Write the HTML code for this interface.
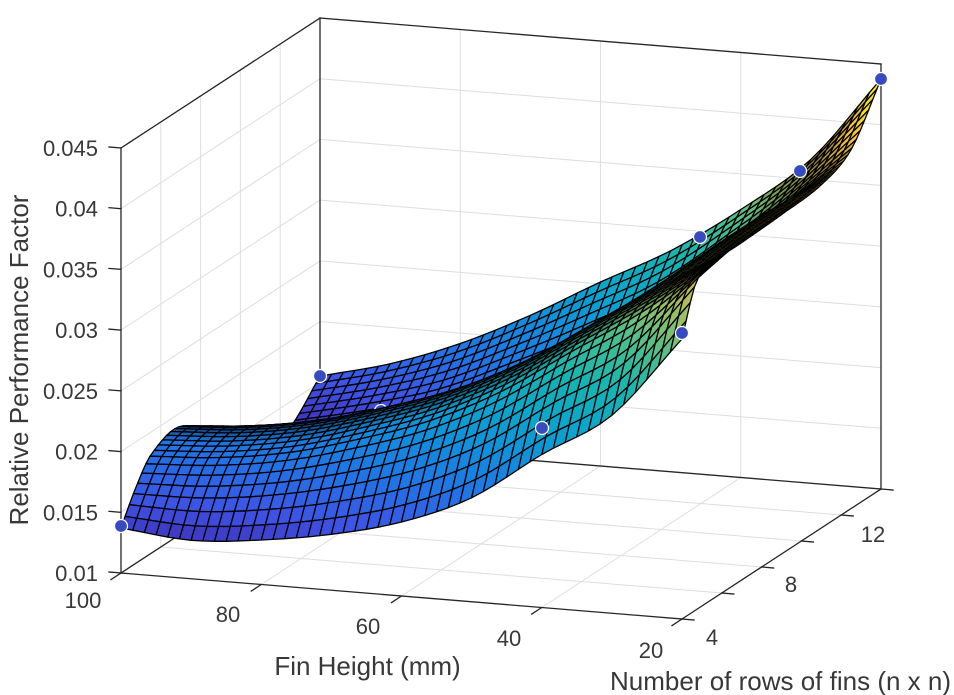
<!DOCTYPE html>
<html><head><meta charset="utf-8">
<style>
html,body{margin:0;padding:0;background:#fff;}
svg{display:block;}
text{font-family:"Liberation Sans",Arial,sans-serif;fill:#383838;}
</style></head>
<body>
<svg id="s" width="954" height="695" viewBox="0 0 954 695" xmlns="http://www.w3.org/2000/svg">
<rect x="0" y="0" width="954" height="695" fill="#fff"/>
<g stroke="#dedede" stroke-width="1" fill="none">
<line x1="121" y1="512.3" x2="320" y2="382.3"/>
<line x1="121" y1="451.6" x2="320" y2="321.6"/>
<line x1="121" y1="390.9" x2="320" y2="260.9"/>
<line x1="121" y1="330.1" x2="320" y2="200.1"/>
<line x1="121" y1="269.4" x2="320" y2="139.4"/>
<line x1="121" y1="208.7" x2="320" y2="78.7"/>
<line x1="160.8" y1="547" x2="160.8" y2="122"/>
<line x1="200.6" y1="521" x2="200.6" y2="96"/>
<line x1="240.4" y1="495" x2="240.4" y2="70"/>
<line x1="280.2" y1="469" x2="280.2" y2="44"/>
<line x1="320" y1="382.3" x2="881" y2="428.3"/>
<line x1="320" y1="321.6" x2="881" y2="367.6"/>
<line x1="320" y1="260.9" x2="881" y2="306.9"/>
<line x1="320" y1="200.1" x2="881" y2="246.1"/>
<line x1="320" y1="139.4" x2="881" y2="185.4"/>
<line x1="320" y1="78.7" x2="881" y2="124.7"/>
<line x1="460.25" y1="454.5" x2="460.25" y2="29.5"/>
<line x1="600.5" y1="466" x2="600.5" y2="41"/>
<line x1="740.75" y1="477.5" x2="740.75" y2="52.5"/>
<line x1="160.8" y1="547" x2="721.8" y2="593"/>
<line x1="200.6" y1="521" x2="761.6" y2="567"/>
<line x1="240.4" y1="495" x2="801.4" y2="541"/>
<line x1="280.2" y1="469" x2="841.2" y2="515"/>
<line x1="261.25" y1="584.5" x2="460.25" y2="454.5"/>
<line x1="401.5" y1="596" x2="600.5" y2="466"/>
<line x1="541.75" y1="607.5" x2="740.75" y2="477.5"/>
</g>
<g stroke="#262626" stroke-width="1.3" fill="none" stroke-linecap="square">
<line x1="121" y1="148" x2="121" y2="573"/>
<line x1="121" y1="148" x2="320" y2="18"/>
<line x1="320" y1="18" x2="320" y2="443"/>
<line x1="320" y1="18" x2="881" y2="64"/>
<line x1="881" y1="64" x2="881" y2="489"/>
<line x1="121" y1="573" x2="682" y2="619"/>
<line x1="682" y1="619" x2="881" y2="489"/>
<line x1="320" y1="443" x2="881" y2="489"/>
<line x1="121" y1="573" x2="320" y2="443"/>
<line x1="121" y1="148" x2="109" y2="147"/>
<line x1="121" y1="208.7" x2="109" y2="207.7"/>
<line x1="121" y1="269.4" x2="109" y2="268.4"/>
<line x1="121" y1="330.1" x2="109" y2="329.1"/>
<line x1="121" y1="390.9" x2="109" y2="389.9"/>
<line x1="121" y1="451.6" x2="109" y2="450.6"/>
<line x1="121" y1="512.3" x2="109" y2="511.3"/>
<line x1="121" y1="573" x2="109" y2="572"/>
<line x1="121" y1="573" x2="111" y2="579.6"/>
<line x1="261.25" y1="584.5" x2="251.25" y2="591.1"/>
<line x1="401.5" y1="596" x2="391.5" y2="602.6"/>
<line x1="541.75" y1="607.5" x2="531.75" y2="614.1"/>
<line x1="682" y1="619" x2="672" y2="625.6"/>
<line x1="682" y1="619" x2="694" y2="620"/>
<line x1="721.8" y1="593" x2="733.8" y2="594"/>
<line x1="761.6" y1="567" x2="773.6" y2="568"/>
<line x1="801.4" y1="541" x2="813.4" y2="542"/>
<line x1="841.2" y1="515" x2="853.2" y2="516"/>
<line x1="881" y1="489" x2="893" y2="490"/>
</g>
<g id="surf"></g>
<g font-size="22" text-anchor="end">
<text x="98" y="156">0.045</text>
<text x="98" y="216.7">0.04</text>
<text x="98" y="277.4">0.035</text>
<text x="98" y="338">0.03</text>
<text x="98" y="399">0.025</text>
<text x="98" y="459.6">0.02</text>
<text x="98" y="520.3">0.015</text>
<text x="98" y="581">0.01</text>
</g>
<g font-size="22" text-anchor="middle">
<text x="83" y="608">100</text>
<text x="228" y="622">80</text>
<text x="368" y="634">60</text>
<text x="509" y="646">40</text>
<text x="651" y="658">20</text>
<text x="712" y="645">4</text>
<text x="791" y="592">8</text>
<text x="873" y="542">12</text>
</g>
<text x="367.5" y="675" font-size="26" text-anchor="middle">Fin Height (mm)</text>
<text x="610" y="690" font-size="26">Number of rows of fins (n x n)</text>
<text transform="translate(28,360) rotate(-90)" font-size="26" text-anchor="middle">Relative Performance Factor</text>
</svg>
<script>
(function(){
const uK=[0,0.125,0.25,0.375,0.5,0.625,0.75,0.875,1];
const vK=[0,0.07,0.15,0.3,0.5,0.7,0.85,1];
const T=[
 [45,74,98.5,108,70,27,35,67],
 [38.5,76,103,113,82,38,50,85],
 [44.5,85,114,125,97,52,68,111],
 [56,100.5,133.4,145,118,80,98,145],
 [74,122,157.5,170,142,112,130,184],
 [104,154.5,192,205,178,152,170,221],
 [153,201.5,237.4,250,236,228,232,268],
 [198,246.5,282.4,295,300,300,296,324],
 [280,327,336,337,339,343,359,410]];
function herm(ts,ys,t){
  const n=ts.length;
  let i=0; while(i<n-2 && t>ts[i+1]) i++;
  const t0=ts[i],t1=ts[i+1],y0=ys[i],y1=ys[i+1],h=t1-t0;
  function m(k){
    if(k===0) return (ys[1]-ys[0])/(ts[1]-ts[0]);
    if(k===n-1) return (ys[n-1]-ys[n-2])/(ts[n-1]-ts[n-2]);
    return (ys[k+1]-ys[k-1])/(ts[k+1]-ts[k-1]);
  }
  const m0=m(i),m1=m(i+1),s=(t-t0)/h,s2=s*s,s3=s2*s;
  return (2*s3-3*s2+1)*y0+(s3-2*s2+s)*h*m0+(-2*s3+3*s2)*y1+(s3-s2)*h*m1;
}
function H(u,v){const col=T.map(function(r){return herm(vK,r,v);});return herm(uK,col,u);}
const stops=[[0,[62,38,168]],[0.1,[62,82,228]],[0.2,[34,114,230]],[0.3,[18,140,222]],[0.4,[10,165,205]],[0.5,[20,180,180]],[0.6,[70,190,145]],[0.7,[150,192,100]],[0.8,[220,185,70]],[0.88,[250,195,50]],[1,[249,251,14]]];
function col(t,m){
  t=Math.max(0,Math.min(1,t));
  for(let k=0;k<stops.length-1;k++){
    const a=stops[k],b=stops[k+1];
    if(t<=b[0]){const f=(t-a[0])/(b[0]-a[0]);
      return 'rgb('+Math.round(m*(a[1][0]+f*(b[1][0]-a[1][0])))+','+Math.round(m*(a[1][1]+f*(b[1][1]-a[1][1])))+','+Math.round(m*(a[1][2]+f*(b[1][2]-a[1][2])))+')';}
  }
  return 'rgb('+Math.round(249*m)+','+Math.round(251*m)+','+Math.round(14*m)+')';
}
function proj(u,v,h){return [121+561*u+199*v,573+46*u-130*v-h];}
const N=48;const Hs=[];let hmin=1e9,hmax=-1e9;
for(let i=0;i<=N;i++){Hs[i]=[];for(let j=0;j<=N;j++){const h=H(i/N,j/N);Hs[i][j]=h;if(h<hmin)hmin=h;if(h>hmax)hmax=h;}}
const items=[];
for(let i=0;i<N;i++){for(let j=0;j<N;j++){
  const u0=i/N,u1=(i+1)/N,v0=j/N,v1=(j+1)/N;
  const a=proj(u0,v0,Hs[i][j]),b=proj(u1,v0,Hs[i+1][j]),c=proj(u1,v1,Hs[i+1][j+1]),d=proj(u0,v1,Hs[i][j+1]);
  const q=[a,b,c,d];
  let A=0;for(let k=0;k<4;k++){const p=q[k],r=q[(k+1)%4];A+=p[0]*r[1]-r[0]*p[1];}
  A=Math.abs(A)/2;
  const kk=Math.min(1,A/60);
  const sw=(1.3*Math.max(0.45,Math.sqrt(Math.min(1,A/45)))).toFixed(2);
  const mult=0.15+0.85*kk;
  const hav=(Hs[i][j]+Hs[i+1][j]+Hs[i+1][j+1]+Hs[i][j+1])/4;
  const dep=0.3252*(u0+u1)/2-0.9169*(v0+v1)/2+0.0004*hav;
  const pts=q.map(function(p){return p[0].toFixed(1)+','+p[1].toFixed(1);}).join(' ');
  items.push({d:dep,s:'<polygon points="'+pts+'" fill="'+col((hav-hmin)/(hmax-hmin),mult)+'" stroke-width="'+sw+'"/>'});
}}
function dot(x,y,dep){items.push({d:dep,s:'<circle cx="'+x+'" cy="'+y+'" r="6.5" fill="rgb(56,75,190)" stroke="#fff" stroke-width="1.2"/>'});}
dot(381,411,-0.3);
dot(121,526,100);dot(320,376,100);dot(542,428,100);dot(682,333,100);dot(700,237,100);dot(800,171,100);dot(881,79,100);
items.sort(function(p,q){return p.d-q.d;});
const g=document.getElementById('surf');
g.setAttribute('stroke','#000');g.setAttribute('stroke-linejoin','round');
g.innerHTML=items.map(function(x){return x.s;}).join('');
})();
</script>
</body></html>
